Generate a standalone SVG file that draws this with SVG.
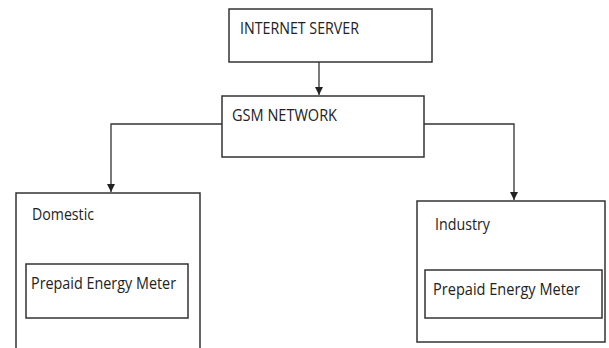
<svg xmlns="http://www.w3.org/2000/svg" width="609" height="348" viewBox="0 0 609 348">
<style>
.box{fill:#fff;stroke:#333;stroke-width:1.5}
.t{font-family:"Open Sans","Noto Sans",sans-serif;font-size:15.5px;fill:#222}
.c{fill:none;stroke:#333;stroke-width:1.3}
</style>
<defs>
<marker id="ah" viewBox="0 0 10 10" refX="10" refY="5" markerWidth="8" markerHeight="8" markerUnits="userSpaceOnUse" orient="auto">
<path d="M0,0 L10,5 L0,10 z" fill="#222"/>
</marker>
</defs>
<rect width="609" height="348" fill="#fff"/>
<g id="server"><rect class="box" x="229" y="9" width="203" height="53"/><text class="t" x="240" y="34" textLength="119" lengthAdjust="spacingAndGlyphs">INTERNET SERVER</text></g>
<g id="gsm"><rect class="box" x="222" y="96" width="202" height="61"/><text class="t" x="232" y="121" textLength="105" lengthAdjust="spacingAndGlyphs">GSM NETWORK</text></g>
<g id="domestic"><path class="box" d="M16,349 V193 H200 V349"/><text class="t" x="32" y="220" textLength="62" lengthAdjust="spacingAndGlyphs">Domestic</text></g>
<g id="meter1"><rect class="box" x="26" y="264" width="162" height="54"/><text class="t" x="31" y="289" textLength="145" lengthAdjust="spacingAndGlyphs">Prepaid Energy Meter</text></g>
<g id="industry"><rect class="box" x="417" y="201" width="188" height="141"/><text class="t" x="435" y="230" textLength="55" lengthAdjust="spacingAndGlyphs">Industry</text></g>
<g id="meter2"><rect class="box" x="425" y="270" width="177" height="48"/><text class="t" x="433" y="295" textLength="147" lengthAdjust="spacingAndGlyphs">Prepaid Energy Meter</text></g>
<g id="connectors">
<path class="c" d="M319,62 V95" marker-end="url(#ah)"/>
<path class="c" d="M222,124 H111 V192" marker-end="url(#ah)"/>
<path class="c" d="M424,124 H514 V200" marker-end="url(#ah)"/>
</g>
</svg>
